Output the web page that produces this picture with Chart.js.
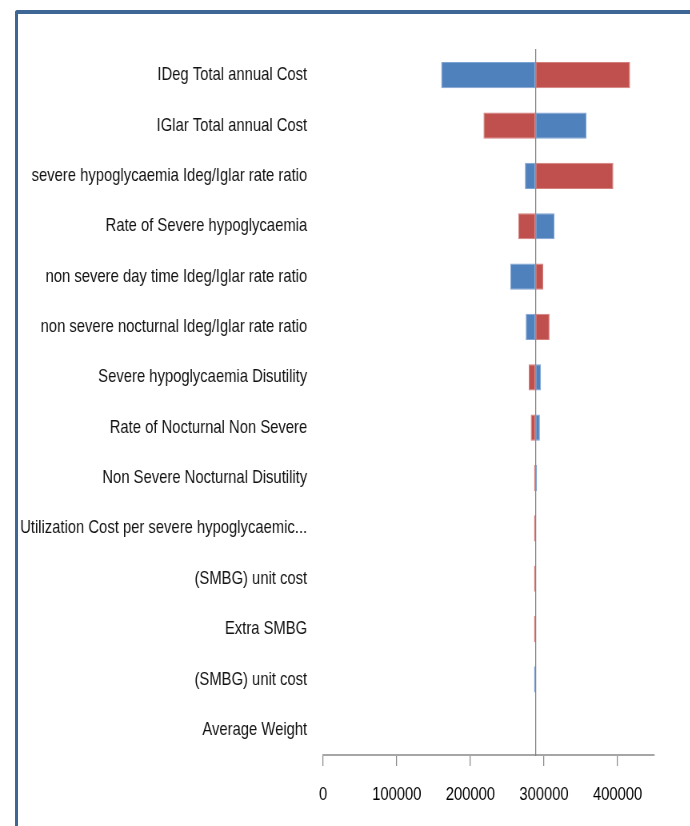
<!DOCTYPE html>
<html>
<head>
<meta charset="utf-8">
<script src="https://cdn.jsdelivr.net/npm/chart.js@4.4.1/dist/chart.umd.min.js"></script>
<style>
  html, body { margin: 0; padding: 0; background: #fff; }
  #wrap { position: relative; width: 690px; height: 826px; overflow: hidden; }
  #frame {
    position: absolute; left: 15px; top: 10px; width: 700px; height: 830px;
    border-left: 3px solid #3f6796; border-top: 4px solid #3f6796;
    border-top-left-radius: 3px; box-sizing: border-box; pointer-events: none;
  }
  /* o grafico original foi achatado na horizontal (texto estreito) */
  canvas { position: absolute; left: 0; top: 0; transform: scaleX(0.8); transform-origin: 0 0; }
</style>
</head>
<body>
<div id="wrap">
  <canvas id="chart" width="862" height="826"></canvas>
  <div id="frame"></div>
</div>
<script>
// parametros do tornado, de cima para baixo
const categorias = [
  'IDeg Total annual Cost',
  'IGlar Total annual Cost',
  'severe hypoglycaemia Ideg/Iglar rate ratio',
  'Rate of Severe hypoglycaemia',
  'non severe day time Ideg/Iglar rate ratio',
  'non severe nocturnal Ideg/Iglar rate ratio',
  'Severe hypoglycaemia Disutility',
  'Rate of Nocturnal Non Severe',
  'Non Severe Nocturnal Disutility',
  'Utilization Cost per severe hypoglycaemic...',
  '(SMBG) unit cost',
  'Extra SMBG',
  '(SMBG) unit cost',
  'Average Weight'
];
const caso_base = 288400;
const azul = [160300, 357700, 274100, 314400, 254200, 275200, 295800, 294400, 290500, 288400, 288400, 288400, 286500, 288400];
const vermelho = [417000, 217800, 394200, 265100, 298900, 307500, 279300, 282000, 286600, 286500, 286500, 286500, 288400, 288400];
const ticksX = [0, 100000, 200000, 300000, 400000];
const maxX = 450000;

const fonte = { family: '"Liberation Sans", Arial, sans-serif', size: 18.5 };

new Chart(document.getElementById('chart'), {
  type: 'bar',
  data: {
    labels: categorias,
    datasets: [
      { label: 'Azul', data: azul.map(v => [caso_base, v]), backgroundColor: '#4f81bd', borderColor: '#7fa3d3', borderWidth: 1, borderSkipped: false },
      { label: 'Vermelho', data: vermelho.map(v => [caso_base, v]), backgroundColor: '#c0504d', borderColor: '#d47f7c', borderWidth: 1, borderSkipped: false }
    ]
  },
  options: {
    indexAxis: 'y',
    responsive: false,
    animation: false,
    layout: { padding: { top: 50, right: 44, left: 0, bottom: 0 } },
    datasets: { bar: { grouped: false, barPercentage: 0.52, categoryPercentage: 1 } },
    plugins: { legend: { display: false }, tooltip: { enabled: false } },
    scales: {
      x: {
        min: 0, max: maxX,
        afterBuildTicks: s => { s.ticks = ticksX.map(v => ({ value: v })); },
        afterFit: s => { s.height = 71; },
        border: { display: true, color: '#a6a6a6', width: 2 },
        grid: { drawOnChartArea: false, drawTicks: true, tickLength: 11, color: '#8c8c8c', lineWidth: 1.25 },
        ticks: { font: fonte, color: '#000', padding: 18, maxRotation: 0, callback: v => String(v) }
      },
      y: {
        afterFit: s => { s.width = 404; },
        border: { display: false },
        grid: { display: false, tickLength: 0 },
        ticks: { font: fonte, color: '#111', padding: 20, autoSkip: false }
      },
      // linha vertical do caso base
      yb: {
        type: 'category',
        labels: categorias,
        position: { x: caso_base },
        border: { display: true, color: '#808080', width: 1.25 },
        grid: { display: false },
        ticks: { display: false }
      }
    }
  }
});
</script>
</body>
</html>
